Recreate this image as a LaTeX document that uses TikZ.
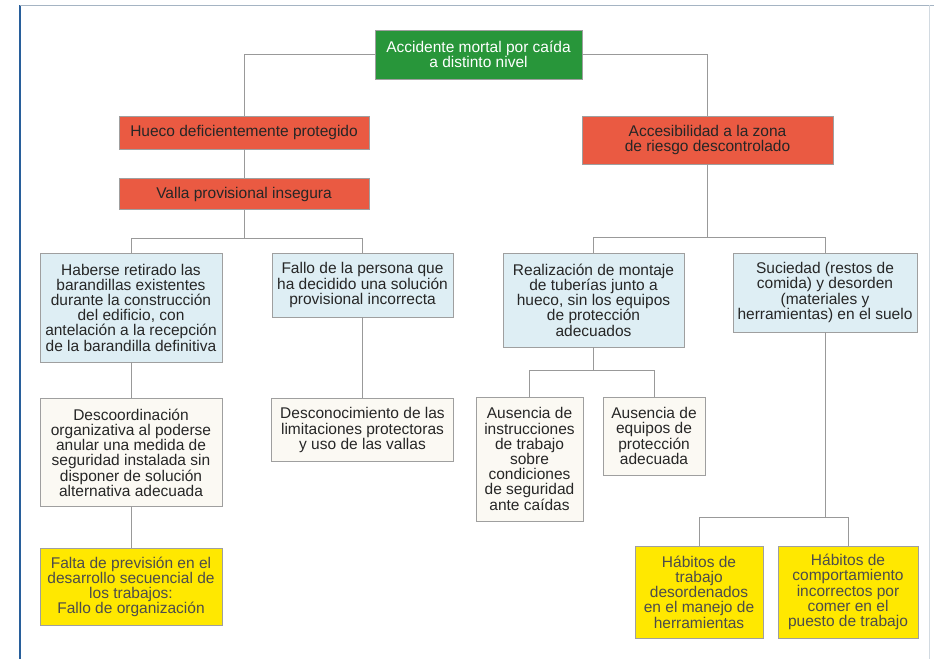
\documentclass[tikz,border=0pt]{standalone}
\usepackage{fontspec}
\setmainfont{Liberation Sans}
\usetikzlibrary{positioning}
\definecolor{topgreen}{RGB}{40,150,58}
\definecolor{riskred}{RGB}{234,90,66}
\definecolor{causeblue}{RGB}{222,238,244}
\definecolor{paleback}{RGB}{251,249,243}
\definecolor{rootyellow}{RGB}{255,232,0}
\definecolor{edgeblue}{RGB}{40,95,155}
\definecolor{rimgray}{RGB}{165,180,195}
\begin{document}
\begin{tikzpicture}[x=1pt,y=-1pt,node distance=30pt,
box/.style={draw=gray!75,line width=0.6pt,align=center,inner sep=3pt,font=\fontsize{15.5}{15.2}\selectfont},
greenbox/.style={box,fill=topgreen,text=white},redbox/.style={box,fill=riskred,text=black!85},
bluebox/.style={box,fill=causeblue,text=black!85},palebox/.style={box,fill=paleback,text=black!85},
yellowbox/.style={box,fill=rootyellow,text=black!70},link/.style={draw=gray!80,line width=0.7pt}]
\useasboundingbox (0,0) rectangle (934,659);
\draw[edgeblue,line width=1.4pt] (20,5) -- (20,659);
\draw[rimgray,line width=0.8pt] (20,5) -- (934,5);
\draw[rimgray!50,line width=0.6pt] (929,5) -- (929,659);
\node[greenbox,minimum width=207pt,minimum height=49pt] (acc) at (478.5,54.5) {Accidente mortal por caída\\a distinto nivel};
\node[redbox,minimum width=250pt,minimum height=33pt] (hueco) at (244,132.5) {Hueco deficientemente protegido};
\node[redbox,minimum width=250pt,minimum height=31pt,below=29pt of hueco] (valla) {Valla provisional insegura};
\node[redbox,minimum width=251pt,minimum height=48pt] (zona) at (707.5,140) {Accesibilidad a la zona\\de riesgo descontrolado};
\node[bluebox,minimum width=182pt,minimum height=109pt] (retirado) at (131,307.5) {Haberse retirado las\\barandillas existentes\\durante la construcción\\del edificio, con\\antelación a la recepción\\de la barandilla definitiva};
\node[bluebox,minimum width=181pt,minimum height=64pt] (fallo) at (362.5,285) {Fallo de la persona que\\ha decidido una solución\\provisional incorrecta};
\node[bluebox,minimum width=181pt,minimum height=94pt] (montaje) at (593.5,300) {Realización de montaje\\de tuberías junto a\\hueco, sin los equipos\\de protección\\adecuados};
\node[bluebox,minimum width=184pt,minimum height=79pt] (suciedad) at (825,292.5) {Suciedad (restos de\\comida) y desorden\\(materiales y\\herramientas) en el suelo};
\node[palebox,minimum width=182pt,minimum height=108pt,below=36pt of retirado] (descoord) {Descoordinación\\organizativa al poderse\\anular una medida de\\seguridad instalada sin\\disponer de solución\\alternativa adecuada};
\node[palebox,minimum width=182pt,minimum height=63pt,below=81pt of fallo] (descon) {Desconocimiento de las\\limitaciones protectoras\\y uso de las vallas};
\node[palebox,minimum width=107pt,minimum height=124pt] (instruc) at (529.5,459) {Ausencia de\\instrucciones\\de trabajo\\sobre\\condiciones\\de seguridad\\ante caídas};
\node[palebox,minimum width=102pt,minimum height=78pt] (equipos) at (654,436) {Ausencia de\\equipos de\\protección\\adecuada};
\node[yellowbox,minimum width=182pt,minimum height=77pt,below=41pt of descoord] (prevision) {Falta de previsión en el\\desarrollo secuencial de\\los trabajos:\\Fallo de organización};
\node[yellowbox,minimum width=128pt,minimum height=92pt] (habtrab) at (699,592) {Hábitos de\\trabajo\\desordenados\\en el manejo de\\herramientas};
\node[yellowbox,minimum width=140pt,minimum height=92pt] (habcom) at (848,592) {Hábitos de\\comportamiento\\incorrectos por\\comer en el\\puesto de trabajo};
\coordinate[below=28pt of valla.south] (vfork);
\coordinate[below=73pt of zona.south] (zfork);
\coordinate[below=23pt of montaje.south] (mfork);
\coordinate[below=185pt of suciedad.south] (sfork);
\draw[link] (acc.west) -| (hueco.north); \draw[link] (acc.east) -| (zona.north); \draw[link] (hueco) -- (valla);
\draw[link] (valla.south) -- (vfork) -| (retirado.north); \draw[link] (vfork) -| (fallo.north);
\draw[link] (zona.south) -- (zfork) -| (montaje.north); \draw[link] (zfork) -| (suciedad.north);
\draw[link] (retirado) -- (descoord); \draw[link] (descoord) -- (prevision); \draw[link] (fallo) -- (descon);
\draw[link] (montaje.south) -- (mfork) -| (instruc.north); \draw[link] (mfork) -| (equipos.north);
\draw[link] (suciedad.south) -- (sfork) -| (habtrab.north); \draw[link] (sfork) -| (habcom.north);
\end{tikzpicture}
\end{document}
